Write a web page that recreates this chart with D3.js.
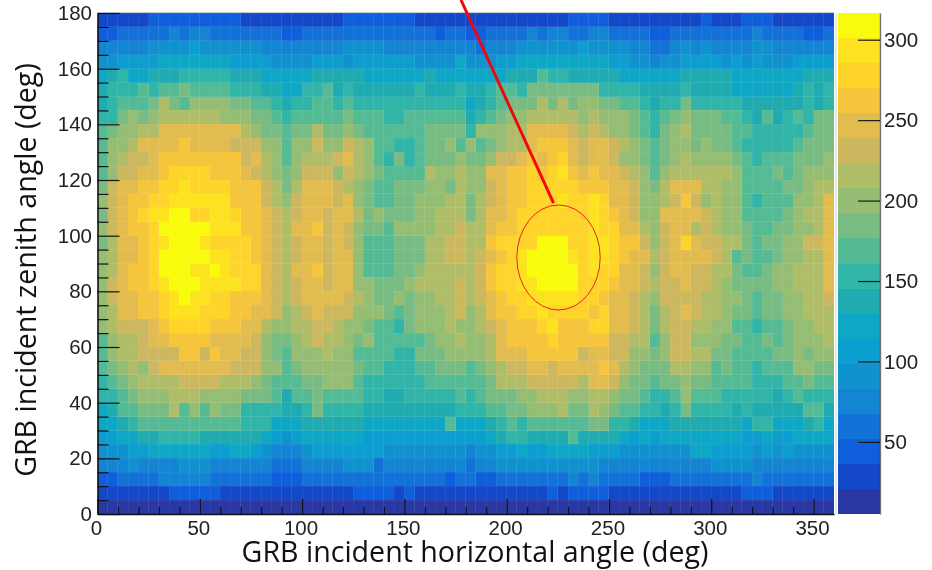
<!DOCTYPE html>
<html>
<head>
<meta charset="utf-8">
<title>GRB incident angle map</title>
<script src="https://cdn.jsdelivr.net/npm/d3@7"></script>
<style>
    html, body { margin: 0; padding: 0; background: #fff; }
    svg { display: block; filter: blur(0.45px); }
    .tick-label { font-family: "Liberation Sans", Arial, sans-serif; font-size: 20.5px; fill: #222; }
    .axis-title { font-family: "Open Sans", sans-serif; font-size: 28.6px; fill: #111; }
</style>
</head>
<body>
<svg class="chart"></svg>
<script>

// One string per zenith bin, top row (175-180 deg) first. Each character is the colour band
// 0-9 then a-j, 20 bands in all. Groups are six 5 deg bins (30 deg).
var bandRows = [
    "111112 222222 221111 111111 222222 211111 111111 111122 221111 111112 111222 111111",
    "223333 343443 333333 223333 333333 333233 223333 434433 443333 223333 333343 333223",
    "444445 555655 555544 444444 555544 444444 434445 555556 555544 334545 444455 444444",
    "556666 777777 766665 555666 566666 655557 555667 777777 776655 455666 656565 556666",
    "789778 889999 988877 777888 887777 778777 777788 8a9988 888777 777888 887777 777888",
    "8999a9 aabaaa a99988 7799a8 988888 898889 889aa9 bbbbbb b99998 888988 887777 778989",
    "89aaab dbaccc cbbaa9 899aa9 a99999 999999 789abb bdbdbc cbbaa9 899b99 999888 888989",
    "99bcbc dddddd cccbba 9aaaaa baaa99 aaaaaa 89abcc dddddc dcccba 9abcbb baa98a 89a9bb",
    "abccdd ffffff ffdcbb abbdbb cbaaaa aabbbb 9cccdd ffffed edccba 9bcdbb bbaa99 999abb",
    "accdff ffgfff feeecc accecc edcaa9 9abbca cabcdd fgggfe ffedcb abccbc bba999 99abbb",
    "acdeef gggggg ggefdc acddde fdca9b 9abbbc bbceef gfghfe ffeccb abcdcc ccba9a aabbbc",
    "aceeff ghhhhg ggfedc bceeec edcbaa aadccd ccffgg hghigf gffedc acdddd ddcaaa babccc",
    "beffgg hhihhh hggged bdfffe dcbaab bbccbd ccefgg hhhhhg ggffec bdfffd dccaaa abbcdd",
    "cefggh hiiiii iggged cefffe fcbaab bcccdd bdefgg hhhihh ihffec cdegec dcca9a aaccdf",
    "befghi ijjhhi ihggfe deffef fdbcbb bccddd bdffgh hhhhhh ihgfec cffffe dccaaa abcddf",
    "cefggh jjjjji iiggfe dffgef ecbbac cccdde ddfggh hhhhhh ihhffd ceffde dccbaa bbccdf",
    "bdffgh ijjjih hhhgfe deffef ecaaab bbddee ddghhh hjjjhh iihgge cefhfe eddbab bcceef",
    "cdffgh jjjjji ihhgfe deffef fcaaab bbddee defghi jjjjih iihgff deffff edabaa bccddf",
    "cdfggh jjjiij ihhhfe dffgef fcaaab bcdddd deghhi jjjjjh ihhffe ceffee ddbaab ccdddf",
    "cefggh ijjjii iihhfe deffef fccbbb cdddde deghhi ijjjjh hhgffe deefee dcbbbb ccdddf",
    "ceffgg hijiih hgggfe deffff edcbbc bccdde defghh iiiiih hgffed ceeeed dccbab bccdde",
    "cdffgg hiiihh hggffe cdefee ecccba bcccde cdfggh hihhhh ghffed bdefed dcbbab bccddd",
    "cdeeef ghhhhg ggffdc cddeed ccbaa9 bcccdc cdefgg ghiggg hhffed bdeedd ccaa9a abccdd",
    "acddef fggggf fffecb bcdedd cbcaaa aabccd ccdfgg gghggg ggeedd aceecc cbbaab abcccd",
    "acddee eeggeg ffeecb acccdc caaaa9 9bbbcc ccdfff ggggge ffeecc bceedd bbaaaa bbcbcc",
    "abcdce ffffff feeecc abcccc cbaa99 9aabbb abcdee ffefff fgfdcb bbddcc abaa9a aaccbb",
    "9abcdd ddeeee dddcba aabbcc ca9999 99aaaa aabddd eeeeed ffecbb abbcbb aaaa99 9aabaa",
    "99abcc cdddcc ccbbba 8aabaa aa9988 99999a 9abbbc cdddcc ddcbba 99acaa a99999 89a999",
    "78aabb bdacac bb9999 889b99 998888 888889 99aabb cccdbb dcbaa9 989b99 998988 888aa8",
    "7789aa aaaaaa aa9997 778888 887777 7777a7 7789a9 aaaaaa bb9987 778888 888799 777897",
    "667788 999988 888876 567777 776666 666666 667899 8888a8 888767 677777 777667 667777",
    "555667 777776 677654 445666 666655 555555 455667 667777 666555 555577 666656 565555",
    "444544 445554 444443 334444 555344 444444 344555 555555 544444 444444 555544 444444",
    "223333 444443 333332 223333 333333 333323 322333 333343 433332 223333 333343 333333",
    "111111 122222 111111 111111 122221 211111 111111 112122 221111 111111 111222 111111",
    "000000 000000 000000 000000 000000 000000 000000 000000 000000 000000 000000 000000"
];

var bandColors = [ // Palette of the colour bar, lowest band first.
    "#2a38a3", "#1349c9", "#0f5fdc", "#1372d8", "#1385d2", "#1092cf", "#0c9ecf", "#0ea8c6", "#1fabb0", "#30b5a8",
    "#55bb95", "#79bc83", "#96bd74", "#b0bd68", "#cdb85f", "#e3bc50", "#f5c53c", "#fed42a", "#fde31f", "#f9fb0e"
];

var xDomain = [0, 360];
var yDomain = [0, 180];
var zDomain = [5.2, 316.6];
var binDegrees = 5;

var xLabels = [0, 50, 100, 150, 200, 250, 300, 350];
var yLabels = [0, 20, 40, 60, 80, 100, 120, 140, 160, 180];
var zLabels = [50, 100, 150, 200, 250, 300];

var xTitle = "GRB incident horizontal angle (deg)";
var yTitle = "GRB incident zenith angle (deg)";

window.onload = function () {

    var width = 932;
    var height = 570;
    var plot = { left: 97.5, right: 834, top: 13, bottom: 514 };
    var bar = { left: 838, right: 880 };

    var bandWidth = (zDomain[1] - zDomain[0]) / bandColors.length;

    var xScale = d3.scaleLinear().domain(xDomain).range([plot.left, plot.right]);
    var yScale = d3.scaleLinear().domain(yDomain).range([plot.bottom, plot.top]);
    var zScale = d3.scaleLinear().domain(zDomain).range([plot.bottom, plot.top]); // Position on the colour bar.
    var colorScale = d3.scaleQuantize().domain(zDomain).range(bandColors);

    var cells = [];
    bandRows.forEach(function (row, rowIndex) {
        row.replace(/ /g, "").split("").forEach(function (band, colIndex) {
            cells.push({
                phi: colIndex * binDegrees,
                theta: 180 - (rowIndex + 1) * binDegrees,
                count: zDomain[0] + (parseInt(band, 36) + 0.5) * bandWidth // Middle of the band the cell was read as.
            });
        });
    });

    var svgElement = d3.select("svg.chart")
        .attr("width", width)
        .attr("height", height);

    svgElement.append("g") // The 2D histogram.
        .attr("shape-rendering", "crispEdges")
        .selectAll("rect")
        .data(cells)
        .enter()
        .append("rect")
            .attr("x", d => xScale(d.phi))
            .attr("y", d => yScale(d.theta + binDegrees))
            .attr("width", d => xScale(d.phi + binDegrees) - xScale(d.phi))
            .attr("height", d => yScale(d.theta) - yScale(d.theta + binDegrees))
            .attr("fill", d => colorScale(d.count))
            .attr("stroke", "rgba(255,255,255,0.05)")
            .attr("stroke-width", 1);

    svgElement.append("line") // Thin grey frame line along the top.
        .attr("x1", plot.left).attr("x2", plot.right)
        .attr("y1", plot.top - 0.5).attr("y2", plot.top - 0.5)
        .attr("stroke", "#c8ccd0");

    var xAxis = svgElement.append("g").attr("transform", "translate(0," + plot.bottom + ")");
    xAxis.call(d3.axisBottom(xScale).tickValues(d3.range(0, 360, 10)).tickSize(0).tickFormat(""));
    xAxis.select(".domain").attr("stroke", "#111").attr("stroke-width", 1.6);
    xAxis.selectAll(".tick line")
        .attr("stroke", "#111")
        .attr("stroke-width", 1.2)
        .attr("y2", d => d % 50 == 0 ? -15 : -7);

    var yAxis = svgElement.append("g").attr("transform", "translate(" + plot.left + ",0)");
    yAxis.call(d3.axisLeft(yScale).tickValues(d3.range(0, 181, binDegrees)).tickSize(0).tickFormat(""));
    yAxis.select(".domain").attr("stroke", "#111").attr("stroke-width", 1.6);
    yAxis.selectAll(".tick line")
        .attr("stroke", "#111")
        .attr("stroke-width", 1.2)
        .attr("x2", d => d % 20 == 0 ? 22 : 11);

    svgElement.append("g").selectAll("text") // Horizontal angle tick labels.
        .data(xLabels)
        .enter()
        .append("text")
            .attr("class", "tick-label")
            .attr("x", d => xScale(d) - 1)
            .attr("y", 535)
            .attr("text-anchor", "middle")
            .text(d => d);

    svgElement.append("g").selectAll("text") // Zenith angle tick labels.
        .data(yLabels)
        .enter()
        .append("text")
            .attr("class", "tick-label")
            .attr("x", 92)
            .attr("y", d => yScale(d) + 7)
            .attr("text-anchor", "end")
            .text(d => d);

    svgElement.append("line") // Pale separator between histogram and colour bar.
        .attr("x1", 836).attr("x2", 836)
        .attr("y1", plot.top).attr("y2", plot.bottom)
        .attr("stroke", "#d4d4d4");

    svgElement.append("g") // Colour bar bands.
        .attr("shape-rendering", "crispEdges")
        .selectAll("rect")
        .data(bandColors)
        .enter()
        .append("rect")
            .attr("x", bar.left)
            .attr("width", bar.right - bar.left)
            .attr("y", (d, i) => zScale(zDomain[0] + (i + 1) * bandWidth))
            .attr("height", (d, i) => zScale(zDomain[0] + i * bandWidth) - zScale(zDomain[0] + (i + 1) * bandWidth))
            .attr("fill", d => d);

    var zAxis = svgElement.append("g").attr("transform", "translate(" + bar.right + ",0)");
    zAxis.call(d3.axisRight(zScale).tickValues(zLabels).tickSize(0).tickPadding(4));
    zAxis.select(".domain").attr("stroke", "rgba(40,40,30,0.65)").attr("stroke-width", 1.4);
    zAxis.selectAll(".tick line").attr("stroke", "#1a1a1a").attr("stroke-width", 1.2).attr("x2", -22);
    zAxis.selectAll(".tick text").attr("class", "tick-label");
    zAxis.attr("font-size", null).attr("font-family", null);

    svgElement.append("text") // Axis titles.
        .attr("class", "axis-title")
        .attr("x", 475)
        .attr("y", 562)
        .attr("text-anchor", "middle")
        .text(xTitle);

    svgElement.append("text")
        .attr("class", "axis-title")
        .attr("transform", "translate(36,270) rotate(-90)")
        .attr("text-anchor", "middle")
        .text(yTitle);

    svgElement.append("line") // Red callout and its ring.
        .attr("x1", 461).attr("y1", 0)
        .attr("x2", 553.5).attr("y2", 203)
        .attr("stroke", "#f0060c")
        .attr("stroke-width", 3);

    svgElement.append("ellipse")
        .attr("cx", 558.5)
        .attr("cy", 257.5)
        .attr("rx", 41.7)
        .attr("ry", 52.5)
        .attr("fill", "none")
        .attr("stroke", "#ee1c25")
        .attr("stroke-width", 1);
};

</script>
</body>
</html>
